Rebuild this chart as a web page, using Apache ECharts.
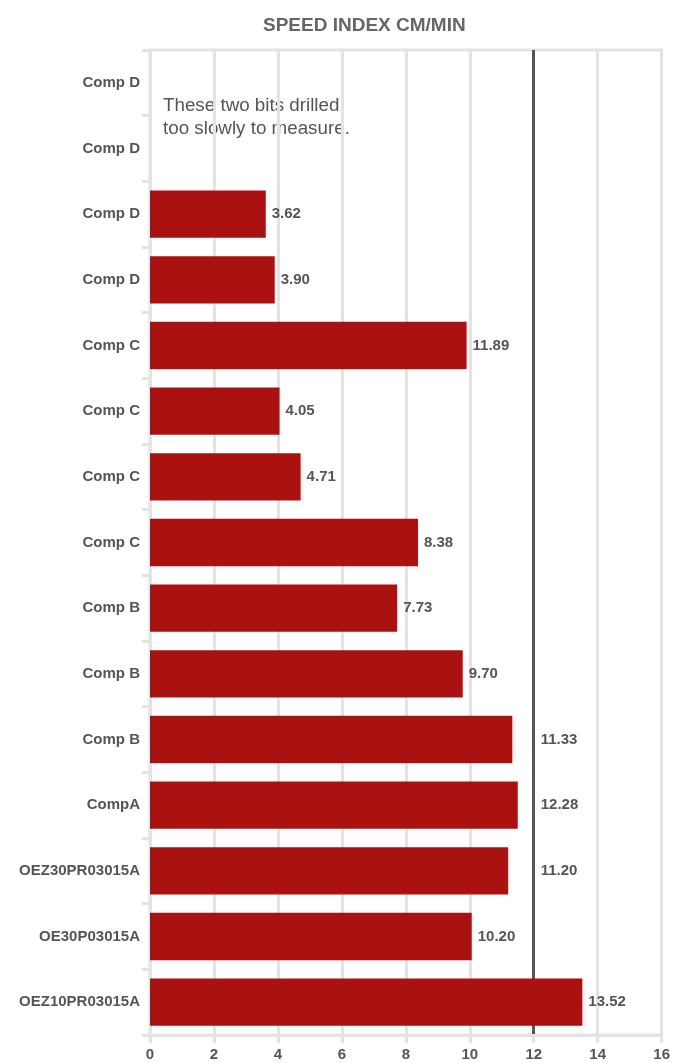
<!DOCTYPE html>
<html>
<head>
<meta charset="utf-8">
<script src="https://cdn.jsdelivr.net/npm/echarts@6/dist/echarts.min.js"></script>
<style>
html,body{margin:0;padding:0;background:#fff;}
#chart{width:673px;height:1063px;}
</style>
</head>
<body>
<div id="chart"></div>
<script>
// Data (top row first)
const categories = ['Comp D','Comp D','Comp D','Comp D','Comp C','Comp C','Comp C','Comp C','Comp B','Comp B','Comp B','CompA','OEZ30PR03015A','OE30P03015A','OEZ10PR03015A'];
// values printed on the chart
const speedLabels = [null, null, 3.62, 3.90, 11.89, 4.05, 4.71, 8.38, 7.73, 9.70, 11.33, 12.28, 11.20, 10.20, 13.52];
// bar lengths as drawn in the picture (a few bars are drawn shorter/longer than their printed value)
const barLengths = [null, null, 3.62, 3.90, 9.90, 4.05, 4.71, 8.38, 7.73, 9.78, 11.33, 11.50, 11.20, 10.06, 13.52];
const xTicks = [0, 2, 4, 6, 8, 10, 12, 14, 16];
const targetSpeed = 12;
const labelsAtTarget = [10, 11, 12]; // rows whose value label sits beside the target line
const titleText = 'SPEED INDEX CM/MIN';
const noteText = 'These two bits drilled\ntoo slowly to measure.';

const FONT = '"Liberation Sans", Arial, Helvetica, sans-serif';
const GRID = '#e3e3e3';
const TEXT = '#555555';
const BAR = '#aa1212';

const fmt = v => Number(v).toFixed(2);

const mainData = barLengths.map((v, i) => ({
  value: v,
  real: speedLabels[i],
  label: { show: v != null && !labelsAtTarget.includes(i) }
}));
const ghostData = speedLabels.map((v, i) => labelsAtTarget.includes(i) ? { value: targetSpeed, real: v } : null);

const splitColors = xTicks.map(t => t === targetSpeed ? '#555555' : GRID);

const chart = echarts.init(document.getElementById('chart'), null, { renderer: 'canvas' });
chart.setOption({
  animation: false,
  backgroundColor: '#ffffff',
  title: {
    text: titleText,
    left: 258,
    top: 11,
    textStyle: { fontFamily: FONT, fontSize: 19, fontWeight: 'bold', color: '#666666' }
  },
  grid: {
    left: 150, right: 8, top: 50, bottom: 28,
    show: true, borderColor: GRID, borderWidth: 3, backgroundColor: 'transparent'
  },
  xAxis: {
    type: 'value',
    min: xTicks[0],
    max: xTicks[xTicks.length - 1],
    interval: xTicks[1] - xTicks[0],
    axisLine: { show: true, lineStyle: { color: GRID, width: 3 } },
    axisTick: { show: true, length: 8, lineStyle: { color: GRID, width: 3 } },
    axisLabel: { margin: 12, fontFamily: FONT, fontSize: 15, fontWeight: 'bold', color: TEXT },
    splitLine: { show: true, lineStyle: { color: splitColors, width: 3 } }
  },
  yAxis: {
    type: 'category',
    inverse: true,
    data: categories,
    axisLine: { show: true, lineStyle: { color: GRID, width: 3 } },
    axisTick: { show: true, length: 8, lineStyle: { color: GRID, width: 3 } },
    axisLabel: { margin: 10, fontFamily: FONT, fontSize: 15, fontWeight: 'bold', color: TEXT },
    splitLine: { show: false }
  },
  series: [
    {
      type: 'bar',
      data: mainData,
      barCategoryGap: '28%',
      itemStyle: { color: BAR },
      label: {
        position: 'right', distance: 6,
        fontFamily: FONT, fontSize: 15, fontWeight: 'bold', color: TEXT,
        formatter: p => fmt(p.data.real)
      },
      z: 3
    },
    {
      type: 'bar',
      data: ghostData,
      barGap: '-100%',
      barCategoryGap: '28%',
      silent: true,
      itemStyle: { color: 'rgba(0,0,0,0)' },
      label: {
        show: true, position: 'right', distance: 7,
        fontFamily: FONT, fontSize: 15, fontWeight: 'bold', color: TEXT,
        formatter: p => fmt(p.data.real)
      },
      z: 4
    }
  ],
  graphic: [
    {
      type: 'text',
      left: 163,
      top: 94,
      style: {
        text: noteText,
        font: '18.8px ' + FONT,
        fill: TEXT,
        lineHeight: 23
      }
    }
  ]
});
</script>
</body>
</html>
